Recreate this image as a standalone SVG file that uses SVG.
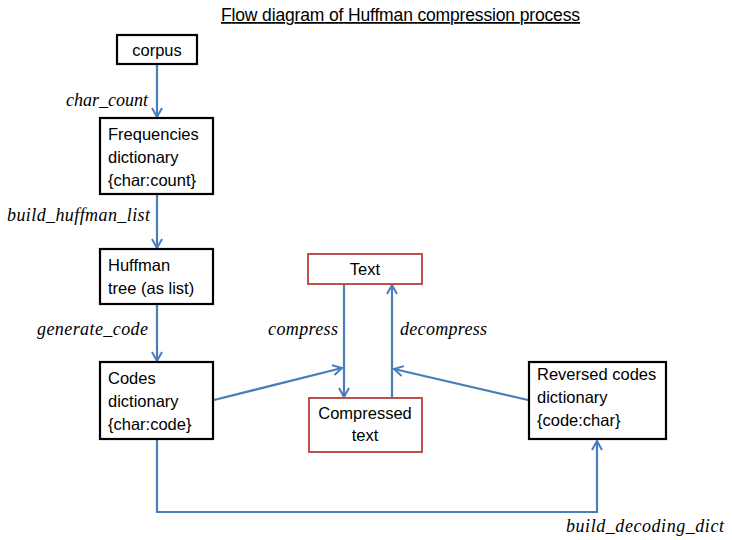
<svg xmlns="http://www.w3.org/2000/svg" width="732" height="540" viewBox="0 0 732 540">
<style>
.box{fill:#fff;stroke:#000;stroke-width:2.2}
.red{fill:#fff;stroke:#c0504d;stroke-width:2}
.t{font-family:"Liberation Sans",Arial,sans-serif;font-size:16.5px;fill:#000}
.lab{font-family:"Liberation Serif","Times New Roman",serif;font-style:italic;font-size:18px;fill:#000}
.c{fill:none;stroke:#4a7ebb;stroke-width:2.2}
</style>
<defs>
<marker id="ah" viewBox="0 0 12 12" refX="11" refY="6" markerWidth="12" markerHeight="12" markerUnits="userSpaceOnUse" orient="auto">
<polyline points="2,1 11,6 2,11" fill="none" stroke="#4a7ebb" stroke-width="2"/>
</marker>
</defs>
<rect width="732" height="540" fill="#fff"/>
<text class="t" x="221" y="21" style="font-size:17.5px" textLength="359" text-decoration="underline">Flow diagram of Huffman compression process</text>
<g id="connectors">
<line class="c" x1="157" y1="64" x2="157" y2="117" marker-end="url(#ah)"/>
<line class="c" x1="157" y1="194" x2="157" y2="248" marker-end="url(#ah)"/>
<line class="c" x1="157" y1="304" x2="157" y2="361" marker-end="url(#ah)"/>
<line class="c" x1="344" y1="284" x2="344" y2="397" marker-end="url(#ah)"/>
<line class="c" x1="392" y1="398" x2="392" y2="285" marker-end="url(#ah)"/>
<line class="c" x1="214" y1="400" x2="342" y2="368" marker-end="url(#ah)"/>
<line class="c" x1="528" y1="400" x2="394" y2="369" marker-end="url(#ah)"/>
<polyline class="c" points="157,439 157,512 597,512 597,441" marker-end="url(#ah)"/>
<text class="lab" x="148" y="106" text-anchor="end">char_count</text>
<text class="lab" x="7" y="221" textLength="143">build_huffman_list</text>
<text class="lab" x="37" y="335" textLength="111">generate_code</text>
<text class="lab" x="268" y="335" textLength="70">compress</text>
<text class="lab" x="400" y="335" textLength="87">decompress</text>
<text class="lab" x="566" y="532" textLength="158">build_decoding_dict</text>
</g>
<g id="corpus">
<rect class="box" x="117" y="35" width="80" height="29"/>
<text class="t" x="157" y="56" text-anchor="middle">corpus</text>
</g>
<g id="frequencies">
<rect class="box" x="100" y="118" width="113" height="76"/>
<text class="t" x="108" y="140">Frequencies</text>
<text class="t" x="108" y="163">dictionary</text>
<text class="t" x="108" y="186">{char:count}</text>
</g>
<g id="huffman">
<rect class="box" x="100" y="249" width="113" height="55"/>
<text class="t" x="108" y="271">Huffman</text>
<text class="t" x="108" y="294">tree (as list)</text>
</g>
<g id="codes">
<rect class="box" x="100" y="362" width="113" height="77"/>
<text class="t" x="108" y="384">Codes</text>
<text class="t" x="108" y="407">dictionary</text>
<text class="t" x="108" y="430">{char:code}</text>
</g>
<g id="text">
<rect class="red" x="308" y="254" width="114" height="30"/>
<text class="t" x="365" y="275" text-anchor="middle">Text</text>
</g>
<g id="compressed">
<rect class="red" x="309" y="398" width="113" height="54"/>
<text class="t" x="365" y="419" text-anchor="middle">Compressed</text>
<text class="t" x="365" y="441" text-anchor="middle">text</text>
</g>
<g id="reversed">
<rect class="box" x="529" y="362" width="137" height="77"/>
<text class="t" x="537" y="380">Reversed codes</text>
<text class="t" x="537" y="403">dictionary</text>
<text class="t" x="537" y="426">{code:char}</text>
</g>
</svg>
